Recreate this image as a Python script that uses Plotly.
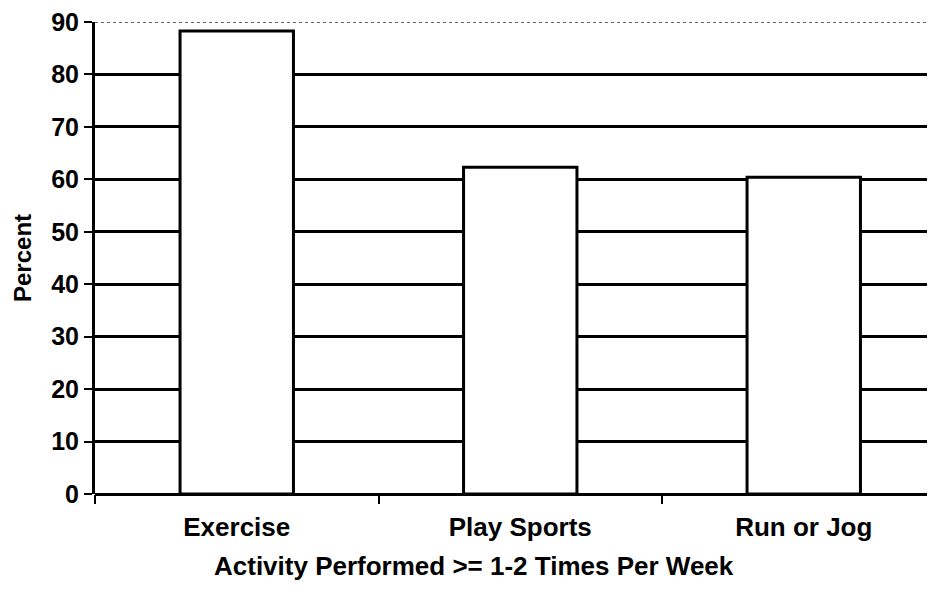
import plotly.graph_objects as go

categories = ["Exercise", "Play Sports", "Run or Jog"]
percent = [88.3, 62.3, 60.4]
y_ticks = [0, 10, 20, 30, 40, 50, 60, 70, 80, 90]

FONT = dict(family="Liberation Sans, Arial, Helvetica, sans-serif", color="black", weight="bold")

# page body has an 8px margin; figure sized to fit inside the window
W, H = 919, 576
L, R, T, B = 87, 0, 14, 90
plot_w = W - L - R
plot_h = H - T - B
cat_px = 283.5

fig = go.Figure()
fig.add_trace(go.Bar(
    x=categories, y=percent, width=0.4,
    marker=dict(color="white", line=dict(color="black", width=3)),
    showlegend=False, hoverinfo="x+y",
))

fig.add_shape(type="line", xref="paper", yref="y", x0=0, x1=1, y0=90, y1=90,
              line=dict(color="#333", width=1.5, dash="dot"), layer="below")

fig.add_annotation(text="Activity Performed >= 1-2 Times Per Week",
                   xref="paper", yref="paper",
                   x=(466 - L) / plot_w, y=-72 / plot_h,
                   xanchor="center", yanchor="middle", showarrow=False,
                   font=dict(size=26, **FONT))
fig.add_annotation(text="Percent", textangle=-90,
                   xref="paper", yref="paper",
                   x=(14 - L) / plot_w, y=0.5,
                   xanchor="center", yanchor="middle", showarrow=False,
                   font=dict(size=24, **FONT))

fig.update_layout(
    width=W, height=H,
    margin=dict(l=L, r=R, t=T, b=B, autoexpand=False),
    paper_bgcolor="white", plot_bgcolor="white",
    font=dict(size=25, **FONT),
    xaxis=dict(
        type="category", range=[-0.5, -0.5 + plot_w / cat_px],
        showgrid=False, showline=False, zeroline=False,
        ticks="outside", tickson="boundaries", ticklen=9, tickwidth=2, tickcolor="black",
        tickfont=dict(size=26, **FONT), ticklabelstandoff=15,
    ),
    yaxis=dict(
        range=[0, 90], tickvals=y_ticks, ticktext=[str(v) for v in y_ticks],
        showgrid=True, gridcolor="black", gridwidth=3,
        zeroline=True, zerolinecolor="black", zerolinewidth=3,
        showline=True, linecolor="black", linewidth=3,
        ticks="outside", ticklen=8, tickwidth=2, tickcolor="black",
        tickfont=dict(size=25, **FONT), ticklabeloverflow="allow",
    ),
    bargap=0.6,
)

fig.write_html("out.html")
